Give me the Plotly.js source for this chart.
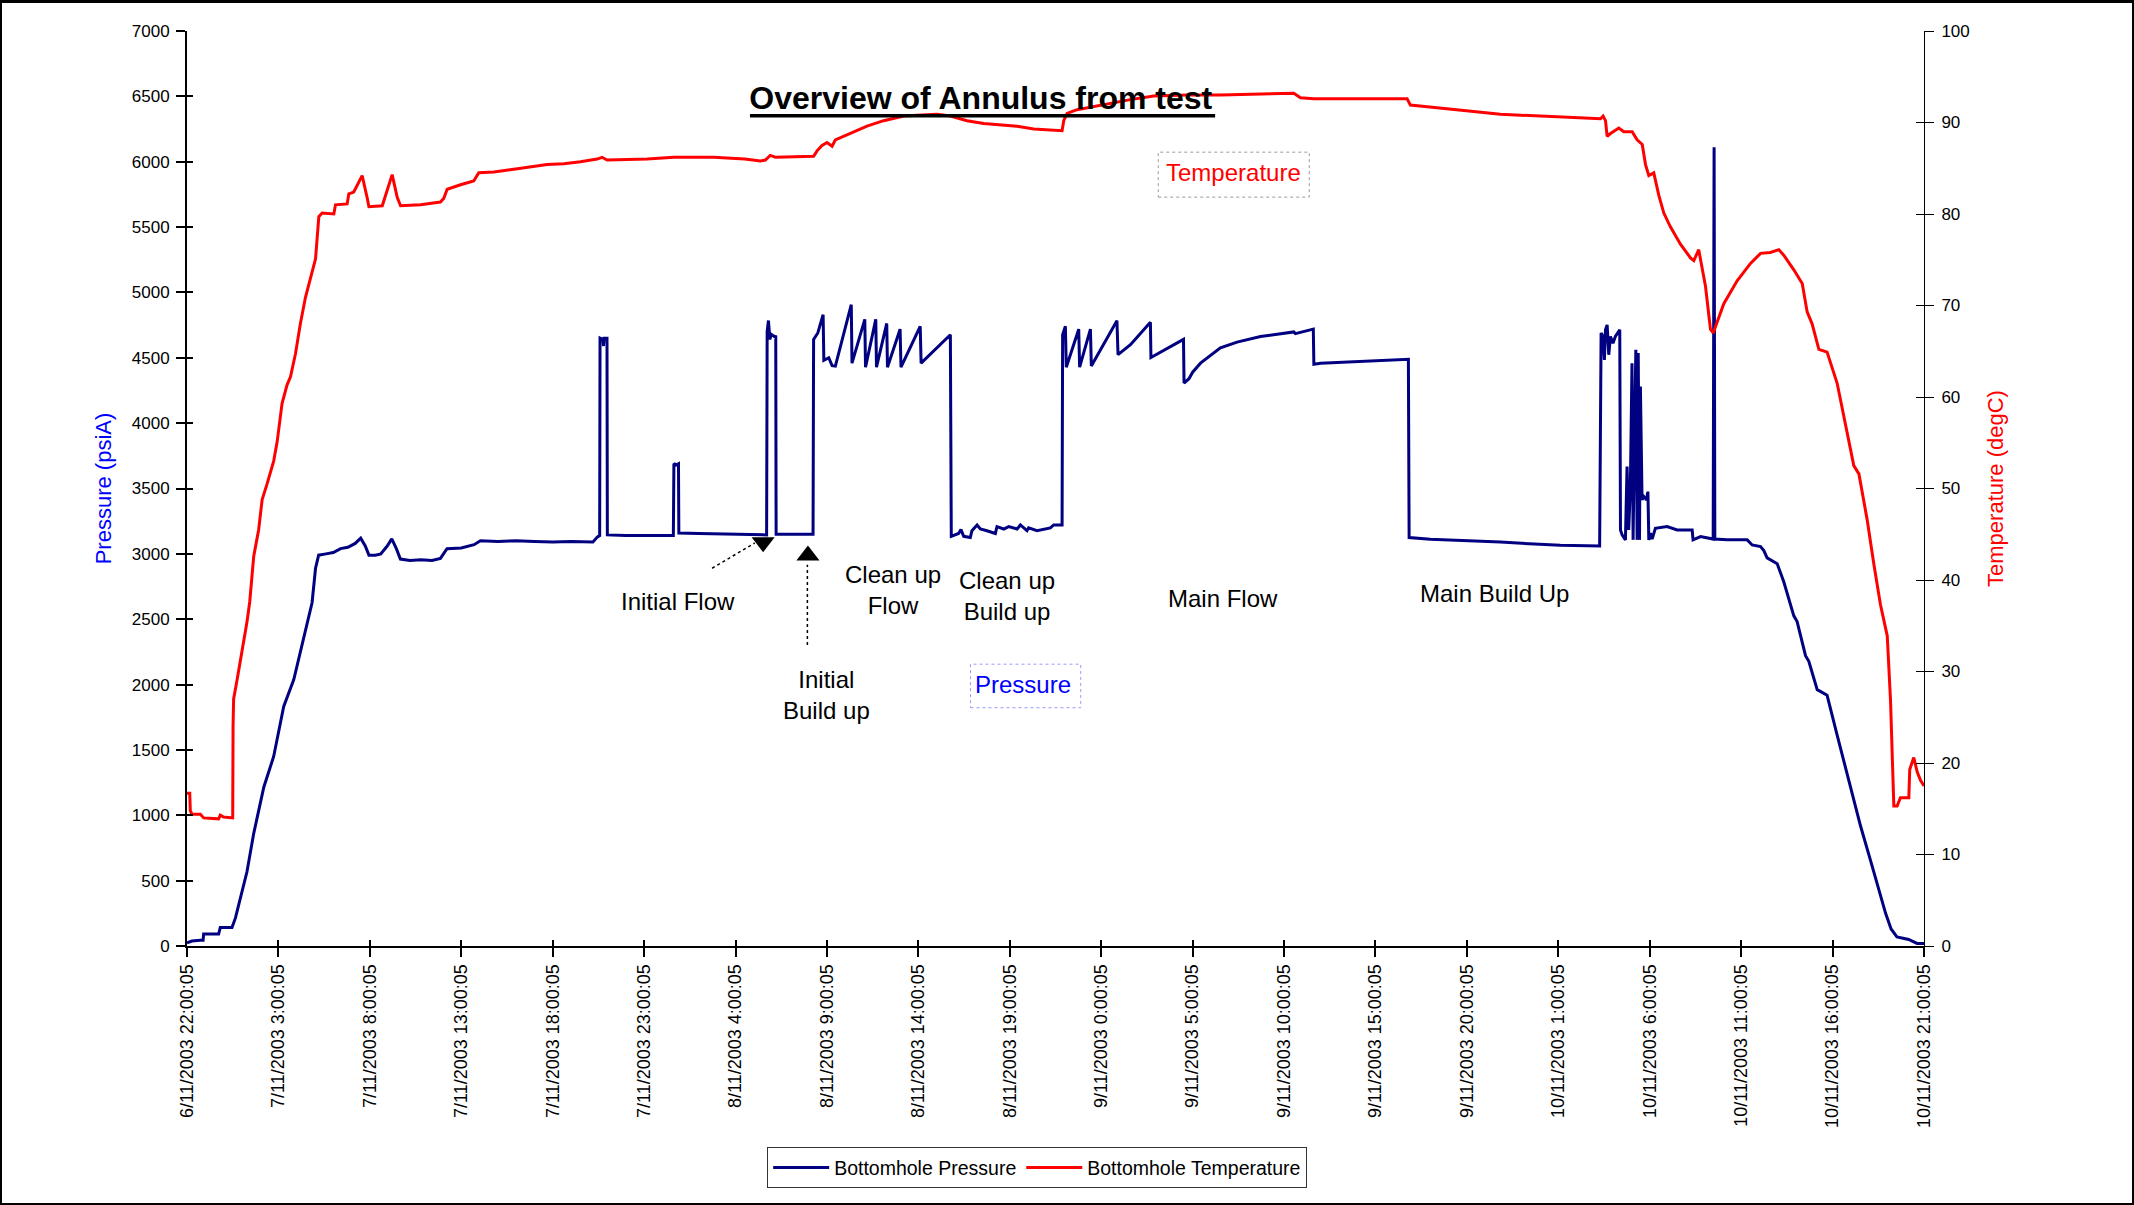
<!DOCTYPE html>
<html>
<head>
<meta charset="utf-8">
<script src="https://cdn.plot.ly/plotly-3.0.1.min.js"></script>
<style>
html,body{margin:0;padding:0;background:#fff;}
#chart{position:absolute;left:0;top:0;width:2134px;height:1205px;}
#frame{position:absolute;left:0;top:0;width:2134px;height:1205px;box-sizing:border-box;border:2px solid #000;border-top-width:3px;pointer-events:none;}
</style>
</head>
<body>
<div id="chart"></div>
<div id="frame"></div>
<script>
// ---------- DATA (hours after 6/11/2003 22:00:05) ----------
const pressureHours = [
  0, 0.27, 0.73, 0.88, 0.91, 1.73, 1.82, 2.46, 2.65, 2.92,
  3.28, 3.65, 4.2, 4.74, 5.29, 5.84, 6.39, 6.84, 7.03, 7.2,
  7.6, 8.0, 8.4, 8.8, 9.2, 9.5, 9.75, 9.95, 10.3, 10.6,
  10.95, 11.2, 11.45, 11.67, 12.2, 12.8, 13.4, 13.86, 14.22, 15.0,
  15.7, 16.05, 17.0, 18.0, 19.0, 20.0, 21.0, 22.2, 22.45, 22.57,
  22.59, 22.75, 22.78, 22.81, 22.97, 22.99, 24.0, 25.5, 26.6, 26.63,
  26.75, 26.88, 26.9, 28.0, 29.5, 31.0, 31.7, 31.73, 31.8, 31.88,
  31.95, 32.15, 32.2, 32.22, 33.0, 34.24, 34.27, 34.5, 34.79, 34.83,
  35.1, 35.28, 35.46, 36.33, 36.37, 37.07, 37.11, 37.67, 37.71, 38.27,
  38.31, 39.0, 39.05, 40.1, 40.15, 41.75, 41.8, 42.2, 42.33, 42.48,
  42.84, 42.93, 43.21, 43.39, 43.75, 44.21, 44.3, 44.67, 44.94, 45.4,
  45.58, 45.94, 46.03, 46.49, 47.22, 47.4, 47.86, 47.89, 48.04, 48.09,
  48.77, 48.82, 49.41, 49.46, 50.86, 50.92, 51.6, 52.69, 52.72, 54.5,
  54.53, 54.8, 55.0, 55.43, 56.52, 57.43, 58.71, 60.53, 60.62, 61.6,
  61.63, 62.0, 66.8, 66.84, 68.0, 71.83, 75.11, 77.26, 77.34, 77.45,
  77.52, 77.58, 77.67, 77.76, 77.85, 77.99, 78.12, 78.36, 78.4, 78.49,
  78.67, 78.76, 78.85, 78.94, 79.03, 79.09, 79.16, 79.24, 79.31, 79.37,
  79.44, 79.49, 79.58, 79.68, 79.82, 79.9, 79.95, 80.04, 80.13, 80.31,
  80.95, 81.5, 82.32, 82.37, 82.78, 83.14, 83.47, 83.52, 83.56, 84.23,
  85.33, 85.6, 86.06, 86.24, 86.42, 86.97, 87.33, 87.88, 88.06, 88.52,
  88.7, 89.16, 89.7, 90.25, 90.98, 91.53, 92.07, 92.62, 92.9, 93.2,
  93.52, 94.16, 94.62, 95.0
];
const pressurePsi = [
  25, 38, 44, 44, 91, 91, 141, 141, 215, 362,
  568, 862, 1215, 1450, 1832, 2038, 2362, 2626, 2890, 2990,
  3000, 3010, 3040, 3050, 3080, 3120, 3060, 2990, 2990, 3000,
  3060, 3115, 3040, 2960, 2950, 2955, 2950, 2965, 3040, 3045,
  3070, 3100, 3095, 3100, 3095, 3090, 3095, 3090, 3130, 3140,
  4650, 4640, 4590, 4650, 4650, 3145, 3140, 3138, 3140, 3690,
  3680, 3690, 3160, 3155, 3150, 3150, 3145, 4700, 4785, 4640,
  4680, 4660, 4670, 3150, 3150, 3150, 4640, 4690, 4830, 4480,
  4500, 4440, 4437, 4906, 4459, 4794, 4428, 4794, 4428, 4763,
  4428, 4719, 4428, 4741, 4459, 4676, 3134, 3156, 3186, 3134,
  3125, 3177, 3221, 3190, 3177, 3156, 3208, 3190, 3208, 3190,
  3221, 3177, 3199, 3177, 3199, 3221, 3221, 4676, 4741, 4428,
  4719, 4428, 4719, 4437, 4784, 4524, 4600, 4771, 4502, 4641,
  4307, 4340, 4390, 4459, 4576, 4620, 4663, 4698, 4685, 4719,
  4450, 4459, 4489, 3125, 3112, 3090, 3065, 3061, 4689, 4663,
  4484, 4714, 4752, 4523, 4663, 4612, 4663, 4714, 3183, 3145,
  3107, 3668, 3183, 3515, 4459, 3107, 3847, 4561, 3107, 4536,
  3107, 4280, 3413, 3438, 3413, 3476, 3107, 3158, 3113, 3196,
  3209, 3183, 3183, 3107, 3132, 3119, 3113, 6110, 3113, 3107,
  3107, 3068, 3056, 3025, 2969, 2925, 2786, 2526, 2482, 2221,
  2178, 1961, 1918, 1613, 1222, 918, 657, 397, 250, 130,
  70, 50, 20, 20
];
const temperatureHours = [
  0, 0.15, 0.18, 0.27, 0.73, 0.91, 1.73, 1.82, 2.0, 2.46,
  2.5, 2.52, 2.55, 2.74, 3.01, 3.28, 3.43, 3.65, 3.92, 4.11,
  4.38, 4.74, 4.93, 5.2, 5.47, 5.66, 5.93, 6.2, 6.48, 6.75,
  7.03, 7.21, 7.39, 8.03, 8.12, 8.76, 8.85, 9.12, 9.31, 9.58,
  9.85, 9.95, 10.68, 10.95, 11.22, 11.5, 11.68, 12.77, 13.86, 14.04,
  14.23, 14.96, 15.68, 15.96, 16.78, 17.87, 19.7, 20.61, 21.52, 22.43,
  22.7, 22.98, 25.17, 26.62, 28.81, 30.5, 31.36, 31.63, 31.9, 32.18,
  34.27, 34.46, 34.73, 35.0, 35.28, 35.46, 36.28, 37.19, 38.1, 39.2,
  39.93, 41.02, 41.75, 42.66, 43.57, 45.4, 46.31, 47.86, 47.95, 48.13,
  48.68, 49.95, 51.59, 52.87, 54.7, 56.52, 59.8, 60.53, 60.9, 61.62,
  66.73, 66.91, 68.37, 70.19, 71.83, 77.31, 77.45, 77.58, 77.67, 77.85,
  78.31, 78.58, 79.04, 79.31, 79.59, 79.77, 79.95, 80.22, 80.5, 80.77,
  81.13, 81.68, 82.23, 82.41, 82.68, 82.78, 83.05, 83.32, 83.47, 83.6,
  84.05, 84.78, 85.51, 86.06, 86.6, 87.06, 87.33, 87.88, 88.34, 88.61,
  88.88, 89.25, 89.7, 90.25, 90.71, 91.16, 91.44, 91.89, 92.26, 92.62,
  92.99, 93.17, 93.35, 93.53, 93.71, 94.17, 94.22, 94.44, 94.63, 94.81,
  95.0
];
const temperatureDegC = [
  16.7, 16.7, 14.8, 14.4, 14.4, 14.0, 13.9, 14.3, 14.1, 14.0,
  14.0, 24.1, 27.0, 29.1, 32.1, 35.4, 37.6, 42.6, 45.5, 48.8,
  50.5, 53.0, 55.1, 59.3, 61.3, 62.2, 64.7, 68.0, 70.9, 73.0,
  75.1, 79.7, 80.1, 80.0, 81.0, 81.1, 82.2, 82.4, 83.1, 84.2,
  81.8, 80.8, 80.9, 82.6, 84.3, 81.8, 80.9, 81.0, 81.3, 81.7,
  82.7, 83.2, 83.6, 84.5, 84.6, 84.9, 85.4, 85.5, 85.7, 86.0,
  86.2, 85.9, 86.0, 86.2, 86.2, 86.0, 85.8, 85.9, 86.4, 86.2,
  86.3, 86.9, 87.5, 87.8, 87.4, 88.1, 88.8, 89.6, 90.2, 90.7,
  90.8, 90.9, 90.7, 90.2, 89.9, 89.6, 89.3, 89.1, 90.2, 91.0,
  91.4, 91.9, 92.5, 92.9, 93.0, 93.0, 93.2, 93.2, 92.7, 92.6,
  92.6, 91.9, 91.6, 91.2, 90.9, 90.4, 90.7, 90.2, 88.5, 88.8,
  89.4, 89.0, 89.0, 88.1, 87.6, 85.4, 84.2, 84.5, 82.0, 80.1,
  78.6, 76.7, 75.2, 74.9, 76.1, 75.0, 72.1, 67.4, 67.0, 67.7,
  70.2, 72.7, 74.6, 75.7, 75.8, 76.1, 75.5, 73.9, 72.4, 69.3,
  68.0, 65.2, 64.9, 61.5, 56.9, 52.5, 51.6, 46.6, 41.7, 37.3,
  33.9, 26.8, 15.3, 15.3, 16.2, 16.2, 19.3, 20.6, 19.0, 18.1,
  17.5
];
const tickHours = [0, 5, 10, 15, 20, 25, 30, 35, 40, 45, 50, 55, 60, 65, 70, 75, 80, 85, 90, 95];
const tickLabels = [
  '6/11/2003 22:00:05', '7/11/2003 3:00:05', '7/11/2003 8:00:05', '7/11/2003 13:00:05',
  '7/11/2003 18:00:05', '7/11/2003 23:00:05', '8/11/2003 4:00:05', '8/11/2003 9:00:05',
  '8/11/2003 14:00:05', '8/11/2003 19:00:05', '9/11/2003 0:00:05', '9/11/2003 5:00:05',
  '9/11/2003 10:00:05', '9/11/2003 15:00:05', '9/11/2003 20:00:05', '10/11/2003 1:00:05',
  '10/11/2003 6:00:05', '10/11/2003 11:00:05', '10/11/2003 16:00:05', '10/11/2003 21:00:05'
];
// phase labels (position in hours / psi)
const phaseTexts = ['Initial Flow', 'Clean up<br>Flow', 'Clean up<br>Build up', 'Main Flow', 'Main Build Up', 'Initial<br>Build up'];
const phaseHours = [26.86, 38.61, 44.86, 56.65, 71.53, 34.97];
const phasePsi   = [2635, 2724, 2677, 2656, 2698, 1917];
// arrow pointers (Initial Flow end, Initial Build up start)
const arrowTipHours = [31.51, 33.96];
const arrowTipPsi   = [3088, 2988];
const arrowTailHours = [28.72, 33.93];
const arrowTailPsi   = [2890, 2302];
const arrowEndHours  = [31.05, 33.93];
const arrowEndPsi    = [3083, 2917];

// ---------- BUILD ----------
const START = Date.UTC(2003, 10, 6, 22, 0, 5);
const toMs = h => START + h * 3600000;
const FONT = 'Liberation Sans, Arial, Helvetica, sans-serif';
const xRange = [toMs(0), toMs(95)];
const tickValsMs = tickHours.map(toMs);

const traces = [
  {
    name: 'Bottomhole Pressure', type: 'scatter', mode: 'lines',
    x: pressureHours.map(toMs), y: pressurePsi, yaxis: 'y',
    line: {color: '#000080', width: 3}
  },
  {
    name: 'Bottomhole Temperature', type: 'scatter', mode: 'lines',
    x: temperatureHours.map(toMs), y: temperatureDegC, yaxis: 'y2',
    line: {color: '#FF0000', width: 3}
  },
  {
    type: 'scatter', mode: 'markers', showlegend: false, hoverinfo: 'skip',
    x: arrowTipHours.map(toMs), y: arrowTipPsi, yaxis: 'y',
    marker: {symbol: ['triangle-down', 'triangle-up'], size: 20, color: '#000'}
  },
  // carriers for the inner half of the crossing tick marks
  {type: 'scatter', mode: 'lines', x: [null], y: [null], xaxis: 'x2', yaxis: 'y3', showlegend: false, hoverinfo: 'skip'},
  {type: 'scatter', mode: 'lines', x: [null], y: [null], xaxis: 'x', yaxis: 'y4', showlegend: false, hoverinfo: 'skip'}
];

const annotations = phaseTexts.map((t, i) => ({
  text: t, x: toMs(phaseHours[i]), y: phasePsi[i], xref: 'x', yref: 'y',
  showarrow: false, font: {family: FONT, size: 24, color: '#000'}, xanchor: 'center', yanchor: 'middle'
}));
annotations.push({text: 'Temperature', x: toMs(57.21), y: 5917, xref: 'x', yref: 'y', showarrow: false,
  font: {family: FONT, size: 24, color: '#FF0000'}});
annotations.push({text: 'Pressure', x: toMs(45.72), y: 2000, xref: 'x', yref: 'y', showarrow: false,
  font: {family: FONT, size: 24, color: '#0000FF'}});

const shapes = [];
for (let i = 0; i < arrowTailHours.length; i++) {
  shapes.push({type: 'line', xref: 'x', yref: 'y', x0: toMs(arrowTailHours[i]), y0: arrowTailPsi[i],
    x1: toMs(arrowEndHours[i]), y1: arrowEndPsi[i], line: {color: '#000', width: 1.5, dash: 'dot'}});
}
shapes.push({type: 'rect', xref: 'x', yref: 'y', x0: toMs(53.12), x1: toMs(61.38), y0: 5729, y1: 6073,
  line: {color: '#999', width: 1, dash: 'dot'}});
shapes.push({type: 'rect', xref: 'x', yref: 'y', x0: toMs(42.85), x1: toMs(48.88), y0: 1823, y1: 2156,
  line: {color: '#9999ff', width: 1, dash: 'dot'}});
// title underline
shapes.push({type: 'line', xref: 'paper', yref: 'paper', x0: 0.3241, x1: 0.5919, y0: 0.9074, y1: 0.9074,
  line: {color: '#000', width: 3.5}});

const commonTickFont = {family: FONT, size: 17, color: '#000'};

const layout = {
  width: 2134, height: 1205,
  margin: {l: 187, r: 210, t: 31, b: 259, pad: 0},
  paper_bgcolor: '#fff', plot_bgcolor: '#fff',
  font: {family: FONT, size: 17, color: '#000'},
  title: {
    text: '<b>Overview of Annulus from test</b>',
    font: {family: FONT, size: 32, color: '#000'},
    xref: 'paper', x: 0.457, xanchor: 'center',
    yref: 'container', y: 1 - 98 / 1205, yanchor: 'middle'
  },
  showlegend: true,
  legend: {
    orientation: 'h', xref: 'paper', x: 0.334, xanchor: 'left', yref: 'paper', y: -0.22, yanchor: 'top',
    bordercolor: '#333', borderwidth: 1, bgcolor: '#fff', font: {family: FONT, size: 19.5, color: '#000'},
    itemwidth: 56
  },
  hovermode: false,
  xaxis: {
    type: 'date', range: xRange,
    tickmode: 'array', tickvals: tickValsMs, ticktext: tickLabels, tickangle: -90,
    ticks: 'outside', ticklen: 9, tickwidth: 2, tickcolor: '#000',
    showline: true, linecolor: '#000', linewidth: 2, showgrid: false, zeroline: false,
    tickfont: {family: FONT, size: 18, color: '#000'}
  },
  xaxis2: {
    type: 'date', range: xRange, overlaying: 'x', anchor: 'y', side: 'bottom',
    tickmode: 'array', tickvals: tickValsMs, showticklabels: false,
    ticks: 'inside', ticklen: 6, tickwidth: 2, tickcolor: '#000',
    showline: false, showgrid: false, zeroline: false
  },
  yaxis: {
    range: [0, 7000], tick0: 0, dtick: 500,
    ticks: 'outside', ticklen: 9, tickwidth: 2, tickcolor: '#000', ticklabelstandoff: 3,
    showline: true, linecolor: '#000', linewidth: 2, showgrid: false, zeroline: false,
    tickfont: commonTickFont,
    title: {text: 'Pressure (psiA)', font: {family: FONT, size: 22, color: '#0000FF'}, standoff: 14}
  },
  yaxis2: {
    overlaying: 'y', side: 'right', anchor: 'x', range: [0, 100], tick0: 0, dtick: 10,
    ticks: 'outside', ticklen: 9, tickwidth: 1, tickcolor: '#000', ticklabelstandoff: 4,
    showline: true, linecolor: '#000', linewidth: 1, showgrid: false, zeroline: false,
    tickfont: commonTickFont,
    title: {text: 'Temperature (degC)', font: {family: FONT, size: 22, color: '#FF0000'}, standoff: 18}
  },
  yaxis3: {
    overlaying: 'y', side: 'left', anchor: 'x', range: [0, 7000], tick0: 0, dtick: 500,
    ticks: 'inside', ticklen: 6, tickwidth: 2, tickcolor: '#000', showticklabels: false,
    showline: false, showgrid: false, zeroline: false
  },
  yaxis4: {
    overlaying: 'y', side: 'right', anchor: 'x', range: [0, 100], tick0: 0, dtick: 10,
    ticks: 'inside', ticklen: 8, tickwidth: 1, tickcolor: '#000', showticklabels: false,
    showline: false, showgrid: false, zeroline: false
  },
  annotations: annotations,
  shapes: shapes
};

Plotly.newPlot('chart', traces, layout, {staticPlot: true, displayModeBar: false});
</script>
</body>
</html>
